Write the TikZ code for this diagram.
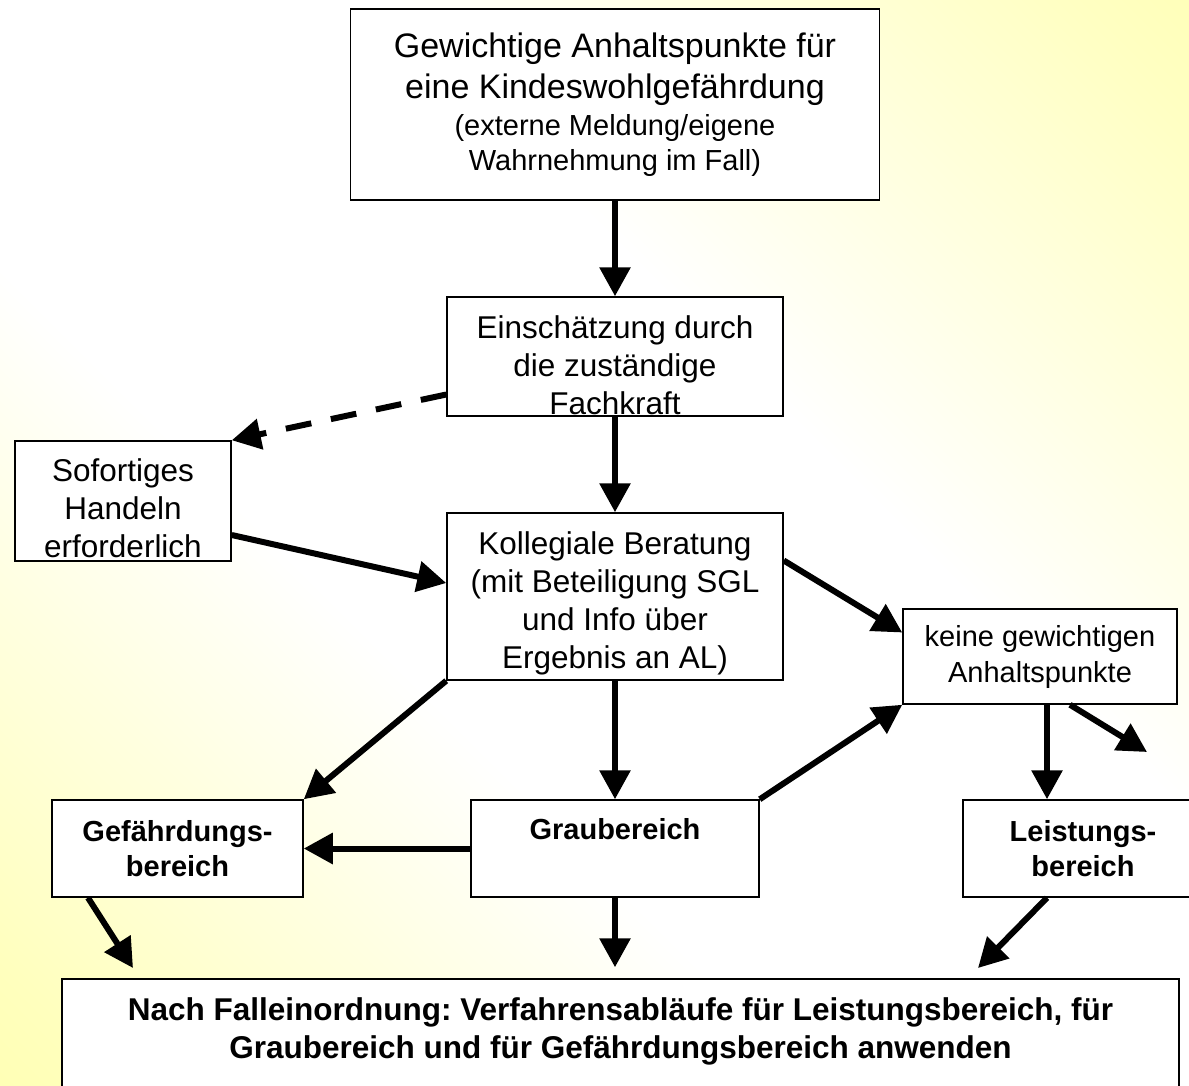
\documentclass[tikz,border=0pt]{standalone}
\usepackage{fontspec}
\setmainfont{Liberation Sans}
\frenchspacing
\usetikzlibrary{arrows.meta}
\definecolor{bgyellow}{RGB}{255,255,153}
\pgfdeclarehorizontalshading{bgfade}{100bp}{color(0bp)=(bgyellow); color(18bp)=(bgyellow!65); color(40bp)=(white); color(60bp)=(white); color(82bp)=(bgyellow!60); color(100bp)=(bgyellow)}

\begin{document}
\begin{tikzpicture}[x=1pt, y=-1pt,
  box/.style={draw, line width=1.5pt, fill=white, inner sep=0pt, align=center},
  normal/.style={font=\fontsize{31.5}{38}\selectfont},
  fett/.style={font=\fontsize{29}{34.5}\selectfont\bfseries},
  pfeil/.style={line width=6pt, -{Triangle[length=29pt,width=30pt]}}]
\useasboundingbox (0,0) rectangle (1189,1085);
\shade[shading=bgfade, shading angle=45] (0,0) rectangle (1189,1085);

\node[box, minimum width=529pt, minimum height=191pt, font=\fontsize{34}{41}\selectfont] (anhalt) at (615,104.5) {Gewichtige Anhaltspunkte für\\eine Kindeswohlgefährdung\\[-4pt]{\fontsize{29}{35}\selectfont (externe Meldung/eigene}\\[-6pt]{\fontsize{29}{35}\selectfont Wahrnehmung im Fall)}};
\node[box, normal, minimum width=336pt, minimum height=119pt] (einsch) at (615,356.5) {\rule{0pt}{40pt}Einschätzung durch\\die zuständige\\Fachkraft};
\node[box, normal, minimum width=216pt, minimum height=120pt] (sofort) at (123,501) {\rule{0pt}{37pt}Sofortiges\\Handeln\\erforderlich};
\node[box, normal, minimum width=336pt, minimum height=167pt] (koll) at (615,596.5) {\rule{0pt}{36pt}Kollegiale Beratung\\(mit Beteiligung SGL\\und Info über\\Ergebnis an AL)};
\node[box, minimum width=274pt, minimum height=95pt, font=\fontsize{29}{36}\selectfont] (keine) at (1040,656.5) {keine gewichtigen\\Anhaltspunkte};
\node[box, fett, minimum width=251pt, minimum height=97pt] (gef) at (177.5,848.5) {Gefährdungs-\\bereich};
\node[box, fett, minimum width=288pt, minimum height=97pt] (grau) at (615,848.5) {Graubereich\\[4pt]\mbox{}};
\node[box, fett, minimum width=240pt, minimum height=97pt] (leist) at (1083,848.5) {Leistungs-\\bereich};
\node[box, minimum width=1117pt, minimum height=122pt, font=\fontsize{31.5}{38}\selectfont\bfseries] (nach) at (620.5,1040) {Nach Falleinordnung: Verfahrensabläufe für Leistungsbereich, für\\Graubereich und für Gefährdungsbereich anwenden\\[-14pt]\mbox{}};

\coordinate (keineend) at (1147,752);
\coordinate (gefend) at (133,968);
\coordinate (leistend) at (978,968);

\draw[pfeil] (anhalt.south) -- (einsch.north);
\draw[pfeil, dash pattern=on 26pt off 20pt] ([yshift=-38pt]einsch.west) -- (sofort.north east);
\draw[pfeil] (einsch.south) -- (koll.north);
\draw[pfeil] ([yshift=-34pt]sofort.east) -- ([yshift=13.5pt]koll.west);
\draw[pfeil] ([yshift=36pt]koll.east) -- ([yshift=24pt]keine.west);
\draw[pfeil] (koll.south west) -- (gef.north east);
\draw[pfeil] (koll.south) -- (grau.north);
\draw[pfeil] (grau.north east) -- (keine.south west);
\draw[pfeil] (grau.west) -- (gef.east);
\draw[pfeil] ([xshift=7pt]keine.south) -- ([xshift=7pt]keine.south |- leist.north);
\draw[pfeil] ([xshift=30pt]keine.south) -- (keineend);
\draw[pfeil] ([xshift=-89.5pt]gef.south) -- (gefend);
\draw[pfeil] (grau.south) -- ([yshift=11pt]nach.north -| grau.south);
\draw[pfeil] ([xshift=-36pt]leist.south) -- (leistend);
\end{tikzpicture}
\end{document}
